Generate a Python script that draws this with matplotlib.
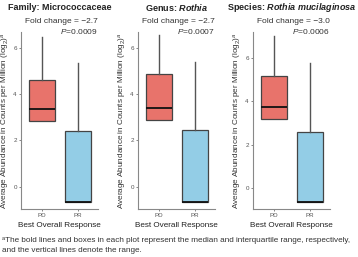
import matplotlib.pyplot as plt

plt.rcParams['font.family'] = ['Liberation Sans', 'DejaVu Sans']
plt.rcParams['mathtext.fontset'] = 'custom'
plt.rcParams['mathtext.rm'] = 'Liberation Sans'
plt.rcParams['mathtext.it'] = 'Liberation Sans:italic'
plt.rcParams['mathtext.bf'] = 'Liberation Sans:bold'
plt.rcParams['mathtext.bfit'] = 'Liberation Sans:italic:bold'

groups = ['PD', 'PR']
title_prefix = ['Family: ', 'Genus: ', 'Species: ']
title_name = ['Micrococcaceae', 'Rothia', 'Rothia mucilaginosa']
title_italic = [False, True, True]
fold_change = ['\u22122.7', '\u22122.7', '\u22123.0']
p_values = ['0.0009', '0.0007', '0.0006']

# box stats (PD, PR)
pd_min = [2.83, 2.9, 3.2]
pd_q1 = [2.83, 2.9, 3.2]
pd_med = [3.35, 3.4, 3.75]
pd_q3 = [4.6, 4.9, 5.15]
pd_max = [6.5, 6.55, 7.0]
pr_min = [-0.65, -0.65, -0.65]
pr_q1 = [-0.65, -0.65, -0.65]
pr_med = [-0.65, -0.65, -0.65]
pr_q3 = [2.4, 2.45, 2.6]
pr_max = [5.35, 5.4, 5.75]

ylims = [(-0.97, 6.7), (-0.97, 6.7), (-0.97, 7.2)]
box_colors = ['#E8736B', '#93CDE6']

fig = plt.figure(figsize=(3.58, 2.57), dpi=100)
lefts = [21, 138, 253]
for i in range(3):
    ax = fig.add_axes([lefts[i] / 358, 48 / 257, 77 / 358, 177 / 257])
    stats = [
        dict(whislo=pd_min[i], q1=pd_q1[i], med=pd_med[i], q3=pd_q3[i], whishi=pd_max[i]),
        dict(whislo=pr_min[i], q1=pr_q1[i], med=pr_med[i], q3=pr_q3[i], whishi=pr_max[i]),
    ]
    bp = ax.bxp(stats, positions=[1, 2], widths=0.72, patch_artist=True,
                showcaps=False, showfliers=False,
                boxprops=dict(edgecolor='#444444', linewidth=0.9),
                medianprops=dict(color='#111111', linewidth=1.3),
                whiskerprops=dict(color='#555555', linewidth=1.0))
    for patch, c in zip(bp['boxes'], box_colors):
        patch.set_facecolor(c)
    ax.set_xlim(0.42, 2.55)
    ax.set_ylim(*ylims[i])
    ax.set_yticks([0, 2, 4, 6])
    ax.set_xticks([1, 2])
    ax.set_xticklabels(groups)
    ax.tick_params(labelsize=4.5, colors='#555555', length=1.5, width=0.5, pad=1.5)
    for s in ['top', 'right']:
        ax.spines[s].set_visible(False)
    for s in ['left', 'bottom']:
        ax.spines[s].set_color('#888888')
        ax.spines[s].set_linewidth(0.8)
    ax.set_ylabel('Average Abundance in Counts per Million (log$_2$)$^a$',
                  fontsize=5.9, color='#333333', labelpad=1)
    ax.set_xlabel('Best Overall Response', fontsize=5.9, color='#222222', labelpad=3)
    ax.text(1.0, 1.06, 'Fold change = ' + fold_change[i], transform=ax.transAxes,
            ha='right', va='center', fontsize=6, color='#333333')
    ax.text(1.0, 1.0, '$P$=' + p_values[i], transform=ax.transAxes,
            ha='right', va='center', fontsize=6, color='#333333')
    name = title_name[i]
    if title_italic[i]:
        name = r'$\mathbfit{' + name.replace(' ', r'\ ') + '}$'
    ax.text(0.5, 1.14, title_prefix[i] + name, transform=ax.transAxes,
            ha='center', va='center', fontsize=6.5, fontweight='bold', color='#222222')

fig.text(0.006, 1 - 240 / 257,
         'ᵃThe bold lines and boxes in each plot represent the median and interquartile range, respectively,',
         fontsize=5.85, color='#333333', va='center')
fig.text(0.006, 1 - 251 / 257, 'and the vertical lines denote the range.',
         fontsize=5.85, color='#333333', va='center')
fig.savefig('out.png', dpi=100)
